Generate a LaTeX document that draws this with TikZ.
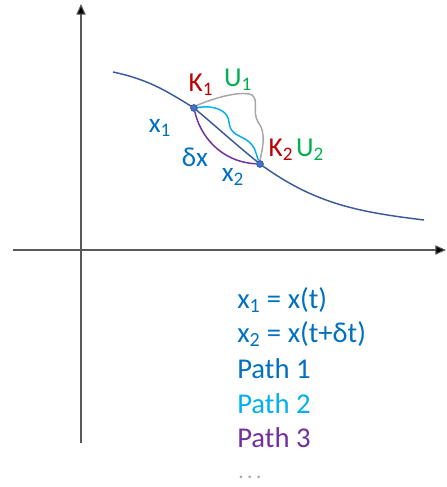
\documentclass[tikz,border=0pt]{standalone}
\usepackage{fontspec}
\setmainfont{Carlito}
\usepackage{tikz}
\usetikzlibrary{arrows.meta,positioning,calc}
\usepackage{xcolor}
\definecolor{navy}{HTML}{3A5A9A}
\definecolor{dotblue}{HTML}{4472C4}
\definecolor{ofblue}{HTML}{0070C0}
\definecolor{cyanp}{HTML}{00B0F0}
\definecolor{purp}{HTML}{7030A0}
\definecolor{redk}{HTML}{C00000}
\definecolor{greenu}{HTML}{00B050}
\definecolor{greyu}{HTML}{A6A6A6}
\definecolor{axisg}{HTML}{595959}
\tikzset{
  dotnode/.style={circle,draw=navy,fill=dotblue,minimum size=5pt,inner sep=0pt,line width=0.5pt},
  lbl/.style={inner sep=0pt,font=\fontsize{20.5}{22}\selectfont},
  listnode/.style={inner sep=0pt,anchor=west,font=\fontsize{21.5}{24}\selectfont},
  axisedge/.style={-{Triangle[length=8pt,width=7pt,fill=black]},line width=0.8pt,color=axisg},
  curveedge/.style={line width=1.1pt,color=navy},
  uedge/.style={line width=1.1pt,color=greyu},
  cedge/.style={line width=1.1pt,color=cyanp},
  pedge/.style={line width=1.1pt,color=purp},
}
\begin{document}
\begin{tikzpicture}[x=0.75pt,y=-0.75pt]
  \useasboundingbox (0,0) rectangle (447,487);
  % axes
  \coordinate (ybot) at (81,443); \coordinate (ytop) at (81,4);
  \coordinate (xleft) at (13,250); \coordinate (xright) at (446,250);
  \draw[axisedge] (ybot)--(ytop);
  \draw[axisedge] (xleft)--(xright);
  % the curve x(t)
  \coordinate (c0) at (113,72); \coordinate (c3) at (424,220);
  \node[dotnode] (k1) at (194,108){}; \node[dotnode] (k2) at (260,164){};
  \draw[curveedge] (c0) to[out=-12,in=148] (k1.center) to[out=-40,in=141] (k2.center)
    to[out=-36,in=173] (c3);
  % paths between the two points
  \draw[uedge] (k1.north east) .. controls (222,95) and (244,91) .. (252,95)
    .. controls (259,100) and (252,112) .. (258,122)
    .. controls (267,133) and (262,150) .. (k2.north);
  \draw[cedge] (k1) .. controls (214,105) and (228,110) .. (229,122)
    .. controls (230,135) and (240,135) .. (248,141)
    .. controls (256,147) and (256,155) .. (k2);
  \draw[pedge] (k1) .. controls (200,135) and (220,162) .. (k2);
  \node[dotnode] at (k1){}; \node[dotnode] at (k2){};
  % labels
  \node[lbl,text=redk] (k1lbl) at (201,85){K\textsubscript{1}};
  \node[lbl,text=greenu] (u1lbl) at (238,80){U\textsubscript{1}};
  \node[lbl,text=redk] (k2lbl) at (281,150){K\textsubscript{2}};
  \node[lbl,text=greenu] (u2lbl) at (310,150){U\textsubscript{2}};
  \node[lbl,text=ofblue] (x1lbl) at (160,128){x\textsubscript{1}};
  \node[lbl,text=ofblue] (dxlbl) at (195,157){δx};
  \node[lbl,text=ofblue] (x2lbl) at (233,177){x\textsubscript{2}};
  % legend
  \node[listnode,text=ofblue] (eq1) at (237,300){x\textsubscript{1} = x(t)};
  \node[listnode,text=ofblue] (eq2) at (237,334){x\textsubscript{2} = x(t+δt)};
  \node[listnode,text=ofblue] (p1) at (237,369){Path 1};
  \node[listnode,text=cyanp] (p2) at (237,404){Path 2};
  \node[listnode,text=purp] (p3) at (237,438){Path 3};
  \node[listnode,text=greyu,font=\fontsize{16}{18}\selectfont] (more) at (238,477){.\,.\,.};
\end{tikzpicture}
\end{document}
